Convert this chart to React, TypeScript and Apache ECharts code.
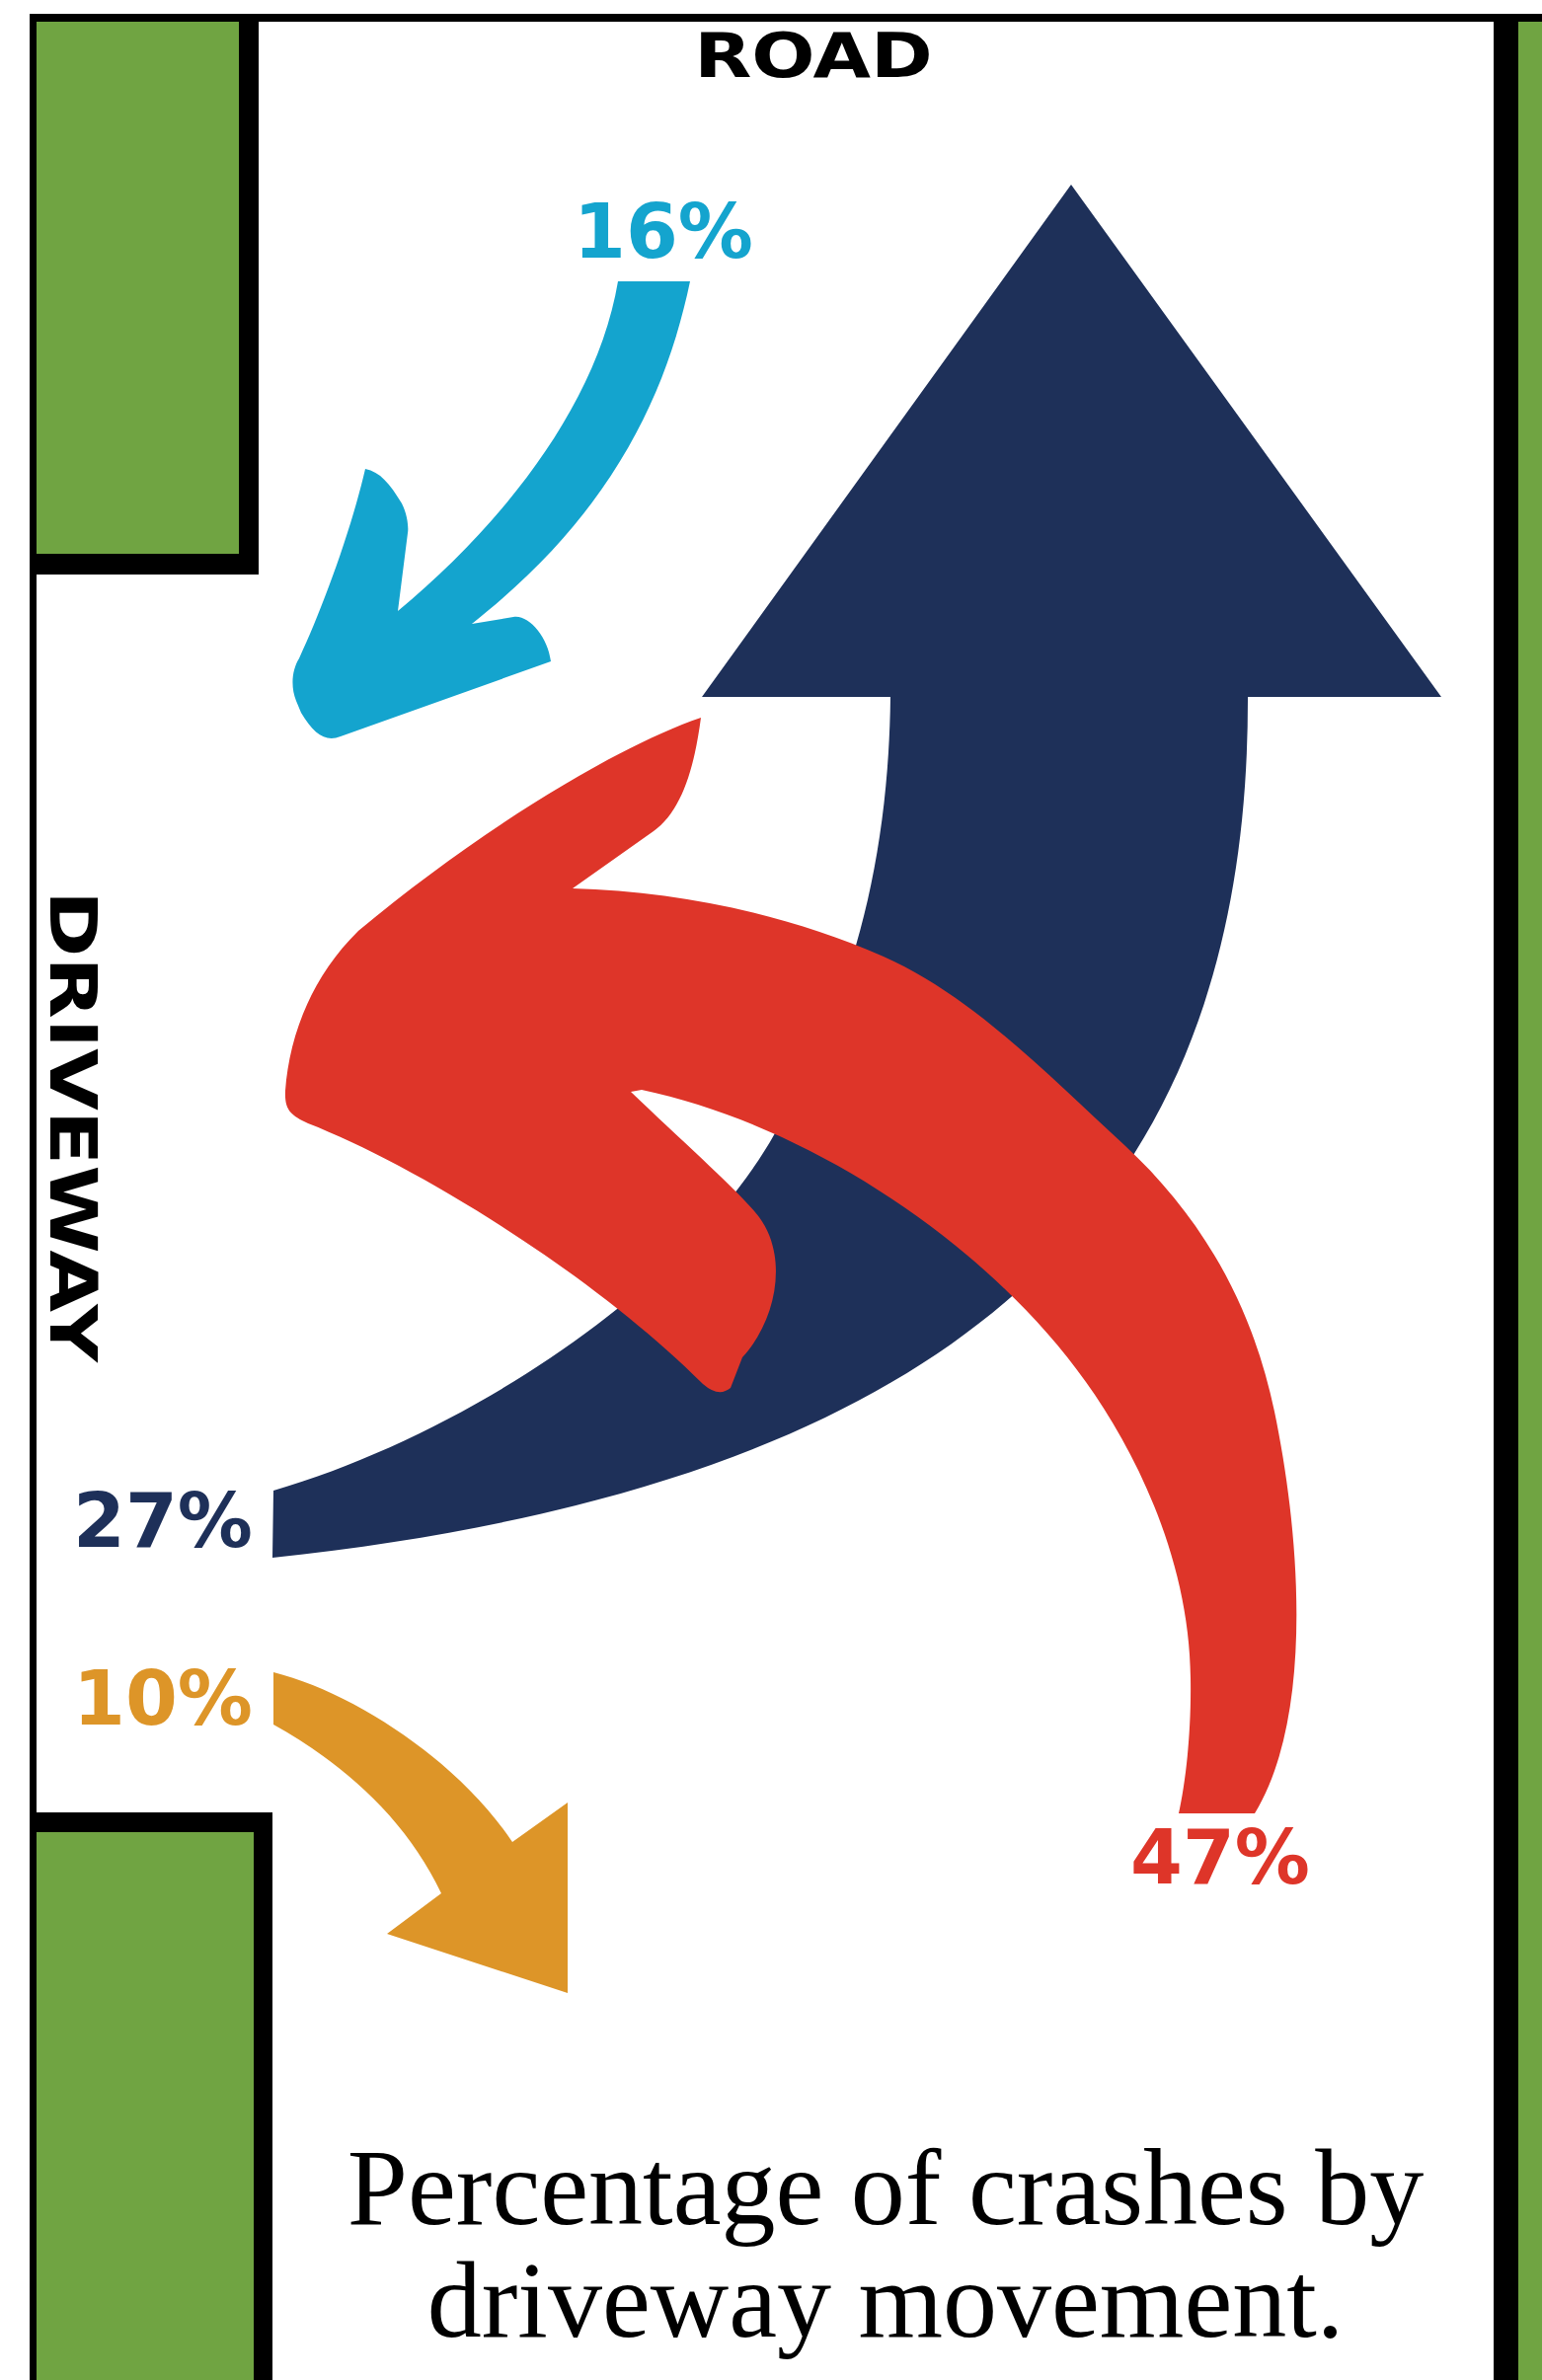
import React, { useEffect, useRef } from "react";
import * as echarts from "echarts";

// ---- data ----
const movementNames = ["Right turn in", "Left turn out", "Right turn out", "Left turn in"];
const shares = [16, 27, 10, 47];
const shareColors = ["#14a4ce", "#1e3059", "#dd9528", "#de3529"];
const roadLabel = "ROAD";
const drivewayLabel = "DRIVEWAY";
const titleLines = ["Percentage of crashes by", "driveway movement."];

// ---- arrow outlines (SVG path data, page pixels) ----
const ARROW_SHAPES: Record<string, string> = {
  arrowBlue:
    "M 626 285 L 699 285 C 675 400 620 520 478 632 L 520 625 C 535 622 555 645 558 670 L 345 746 C 330 752 318 744 305 722 L 300 710 C 294 695 296 678 303 667 C 325 620 355 540 370 475 C 385 478 395 490 407 510 C 413 522 414 535 413 540 L 403 619 C 510 530 605 410 626 285 Z",
  arrowNavy:
    "M 1085 187 L 1460 706 L 1264 706 C 1265 1200 1000 1500 276 1578 L 277 1510 C 480 1450 700 1300 785 1148 C 860 1020 900 880 902 706 L 711 706 Z",
  arrowOrange:
    "M 277 1694 C 360 1715 465 1785 519 1866 L 575 1826 L 575 2019 L 392 1959 L 447 1918 C 410 1840 345 1785 277 1747 Z",
  arrowRed:
    "M 1271 1837 C 1330 1740 1318 1560 1291 1430 C 1269 1324 1219 1234 1139 1160 C 1063 1090 985 1009 895 969 C 800 927 690 903 580 900 L 662 842 C 690 822 703 780 710 727 C 620 758 480 845 363 943 C 315 990 293 1050 289 1105 C 288 1125 295 1130 312 1138 C 420 1180 600 1290 712 1402 Q 728 1416 740 1406 L 752 1375 C 785 1340 800 1275 769 1233 C 750 1208 690 1155 639 1106 L 650 1104 C 820 1140 1000 1260 1100 1400 C 1150 1470 1205 1580 1206 1700 C 1207 1760 1200 1810 1194 1837 Z",
};

let registered = false;
function registerShapes() {
  if (registered) return;
  Object.keys(ARROW_SHAPES).forEach((k) => {
    echarts.graphic.registerShape(k, echarts.graphic.extendPath(ARROW_SHAPES[k], {}) as any);
  });
  registered = true;
}

const W = 1562;
const H = 2411;

export default function App() {
  const ref = useRef<HTMLDivElement>(null);
  useEffect(() => {
    if (!ref.current) return;
    registerShapes();
    const chart = echarts.init(ref.current, null, { renderer: "svg", width: W, height: H });

    const green = "#70a442";
    const black = "#000000";
    const rect = (x: number, y: number, w: number, h: number, fill: string) => ({
      type: "rect",
      shape: { x, y, width: w, height: h },
      style: { fill },
      silent: true,
    });

    // layout of the scene (positions only)
    const arrowOrder = ["arrowBlue", "arrowNavy", "arrowOrange", "arrowRed"];
    const labelPos = [
      [672, 234],
      [165, 1540],
      [165, 1720],
      [1236, 1881],
    ];

    const labelFont = "'DejaVu Sans', sans-serif";

    const elements: any[] = [
      rect(30, 14, W - 30, 8, black),
      rect(30, 14, 7, H - 14, black),
      rect(37, 22, 225, 560, black),
      rect(37, 22, 205, 539, green),
      rect(37, 1836, 239, H - 1836, black),
      rect(37, 1856, 220, H - 1856, green),
      rect(1513, 14, 25, H - 14, black),
      rect(1538, 22, W - 1538, H - 22, green),
    ];

    shares.forEach((v, i) => {
      elements.push({
        type: arrowOrder[i],
        x: 0,
        y: 0,
        scaleX: 1,
        scaleY: 1,
        z: i === 3 ? 5 : 3,
        name: movementNames[i],
        style: { fill: shareColors[i] },
        silent: true,
      });
    });

    shares.forEach((v, i) => {
      elements.push({
        type: "text",
        x: labelPos[i][0],
        y: labelPos[i][1],
        z: 10,
        style: {
          text: `${v}%`,
          fill: shareColors[i],
          font: `bold 76px ${labelFont}`,
          align: "center",
          verticalAlign: "middle",
        },
      });
    });

    elements.push({
      type: "text",
      x: 824,
      y: 56,
      scaleX: 1.2,
      z: 10,
      style: {
        text: roadLabel,
        fill: "#000",
        font: `bold 63px ${labelFont}`,
        align: "center",
        verticalAlign: "middle",
      },
    });

    elements.push({
      type: "text",
      x: 74,
      y: 1141,
      rotation: -Math.PI / 2,
      scaleX: 1.23,
      z: 10,
      style: {
        text: drivewayLabel,
        fill: "#000",
        font: `bold 66px ${labelFont}`,
        align: "center",
        verticalAlign: "middle",
      },
    });

    titleLines.forEach((t, i) => {
      elements.push({
        type: "text",
        x: 897,
        y: 2216 + i * 114,
        z: 10,
        style: {
          text: t,
          fill: "#000",
          font: `110px 'Liberation Serif', 'DejaVu Serif', serif`,
          align: "center",
          verticalAlign: "middle",
        },
      });
    });

    chart.setOption({
      animation: false,
      backgroundColor: "#ffffff",
      graphic: { elements },
    });

    return () => chart.dispose();
  }, []);

  return (
    <div
      ref={ref}
      style={{ position: "fixed", left: 0, top: 0, width: W, height: H, background: "#fff" }}
    />
  );
}
